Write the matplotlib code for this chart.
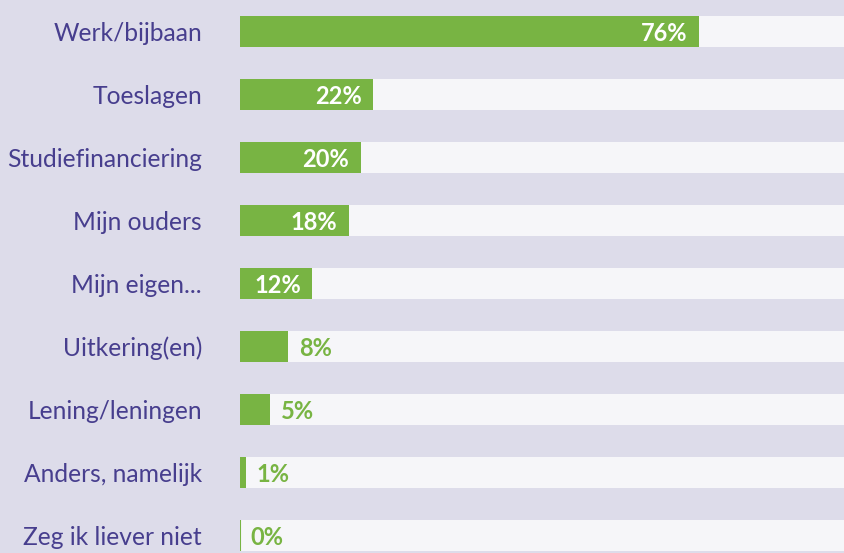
import matplotlib.pyplot as plt

# data
categories = ['Werk/bijbaan', 'Toeslagen', 'Studiefinanciering', 'Mijn ouders',
              'Mijn eigen...', 'Uitkering(en)', 'Lening/leningen',
              'Anders, namelijk', 'Zeg ik liever niet']
values = [76, 22, 20, 18, 12, 8, 5, 1, 0]

bg = '#dddcea'
track = '#f6f6f9'
green = '#78b443'
purple = '#473e8e'

plt.rcParams['font.family'] = ['Lato', 'DejaVu Sans']

fig = plt.figure(figsize=(8.44, 5.53), dpi=100)
fig.patch.set_facecolor(bg)
ax = fig.add_axes([240 / 844, 0, 1 - 240 / 844, 1])
ax.set_facecolor(bg)

ypos = list(range(len(categories)))
ax.barh(ypos, [100] * len(values), height=0.5, color=track, edgecolor='none')
ax.barh(ypos, values, height=0.5, color=green, edgecolor='none')

# thin line for the zero bar
ax.vlines(0, 8 - 0.25, 8 + 0.25, color=green, lw=1.5)

for y, v in zip(ypos, values):
    if v >= 10:
        ax.text(v - 1.9, y + 0.03, f'{v}%', ha='right', va='center', color='white',
                fontsize=17, fontweight='bold')
    else:
        ax.text(v + 1.8, y + 0.03, f'{v}%', ha='left', va='center', color=green,
                fontsize=17, fontweight='bold')
    ax.text(-6.3, y + 0.03, categories[y], ha='right', va='center', color=purple,
            fontsize=17.7)

ax.set_xlim(0, 100)
ax.set_ylim(8.28, -0.5)
ax.axis('off')

fig.savefig('out.png', dpi=100, facecolor=bg)
